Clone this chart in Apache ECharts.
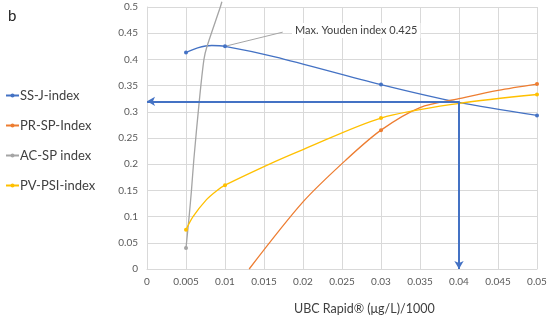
<!DOCTYPE html>
<html><head><meta charset="utf-8">
<script src="https://cdn.jsdelivr.net/npm/echarts@6/dist/echarts.min.js"></script>
<style>html,body{margin:0;padding:0;background:#fff}#c{width:550px;height:323px}</style>
</head><body><div id="c"></div>
<script>
// Series points [x, y]; marker points are the measured ones, others trace the smoothed curve
const ssjPts = [[0.005,0.413],[0.0065,0.422],[0.0083,0.4265],[0.01,0.425],[0.0164,0.405],[0.03,0.352],[0.04,0.318],[0.05,0.293]];
const ssjMarks = [0.005,0.01,0.03,0.05];
const prPts = [[0.0131,0],[0.02,0.128],[0.0255,0.208],[0.03,0.265],[0.035,0.308],[0.04,0.325],[0.045,0.341],[0.05,0.353]];
const prMarks = [0.03,0.05];
const acPts = [[0.005,0.04],[0.0054,0.1],[0.0057,0.15],[0.006,0.208],[0.0067,0.32],[0.0073,0.4],[0.0077,0.425],[0.0094,0.5],[0.0096,0.51]];
const acMarks = [0.005];
const pvPts = [[0.005,0.075],[0.0059,0.1],[0.0076,0.132],[0.0089,0.149],[0.01,0.16],[0.0164,0.205],[0.02,0.228],[0.03,0.288],[0.04,0.316],[0.05,0.333]];
const pvMarks = [0.005,0.01,0.03,0.05];
const cutoffX = 0.04, cutoffY = 0.32;
const annotPts = [[0.01,0.425],[0.0174,0.452]];
const annotText = 'Max. Youden index 0.425';
const xTicks = {min:0, max:0.05, step:0.005};
const yTicks = {min:0, max:0.5, step:0.05};

const FONT = 'Lato, "Open Sans", sans-serif';
function toData(pts, marks){
  return pts.map(p => marks.some(m => Math.abs(m-p[0])<1e-9) ? {value:p} : {value:p, symbol:'none'});
}
function mk(name, pts, marks, color){
  return {name, type:'line', data:toData(pts,marks), smooth:0.3, symbol:'circle', symbolSize:4,
    showAllSymbol:true, lineStyle:{color, width:1.3}, itemStyle:{color}, color, clip:false, z:3};
}
const chart = echarts.init(document.getElementById('c'), null, {renderer:'canvas'});
chart.setOption({
  animation:false,
  textStyle:{fontFamily:FONT},
  grid:{left:147, right:13, top:7, bottom:54, containLabel:false},
  legend:{orient:'vertical', left:0, top:83, itemGap:15, itemWidth:13, itemHeight:5,
    data:['SS-J-index','PR-SP-Index','AC-SP index','PV-PSI-index'],
    textStyle:{fontSize:13, color:'#404040', fontFamily:FONT, padding:[0,0,0,-4], lineHeight:15}},
  xAxis:{type:'value', min:xTicks.min, max:xTicks.max, interval:xTicks.step,
    axisLine:{show:true, lineStyle:{color:'#d9d9d9'}}, axisTick:{show:false},
    axisLabel:{color:'#595959', fontSize:10, margin:8, formatter:v=>String(+v.toFixed(3))},
    splitLine:{show:true, lineStyle:{color:'#d9d9d9'}}},
  yAxis:{type:'value', min:yTicks.min, max:yTicks.max, interval:yTicks.step,
    axisLine:{show:true, lineStyle:{color:'#d9d9d9'}}, axisTick:{show:false},
    axisLabel:{color:'#595959', fontSize:10, margin:9, formatter:v=>String(+v.toFixed(2))},
    splitLine:{show:true, lineStyle:{color:'#d9d9d9'}}},
  series:[
    mk('SS-J-index', ssjPts, ssjMarks, '#4472C4'),
    mk('PR-SP-Index', prPts, prMarks, '#ED7D31'),
    mk('AC-SP index', acPts, acMarks, '#A5A5A5'),
    mk('PV-PSI-index', pvPts, pvMarks, '#FFC000'),
    {name:'annot', type:'line', data:annotPts, symbol:'none', lineStyle:{color:'#A5A5A5', width:1}, z:2,
      markLine:{silent:true, symbol:['none','arrow'], symbolSize:[7,8], label:{show:false},
        lineStyle:{color:'#4472C4', width:2, type:'solid'},
        data:[[{coord:[cutoffX,cutoffY]},{coord:[0,cutoffY]}],[{coord:[cutoffX,cutoffY]},{coord:[cutoffX,0]}]]}}
  ],
  graphic:[
    {type:'text', left:8, top:9, style:{text:'b', fontSize:15, fill:'#222', fontFamily:FONT}},
    {type:'text', left:292, top:23, z:10, style:{text:annotText, fontSize:11, fill:'#404040', fontFamily:FONT,
      backgroundColor:'#fff', padding:[2,3]}},
    {type:'text', left:294, top:302, style:{text:'UBC Rapid® (μg/L)/1000', fontSize:12.5, fill:'#404040', fontFamily:FONT}}
  ]
});
</script></body></html>
